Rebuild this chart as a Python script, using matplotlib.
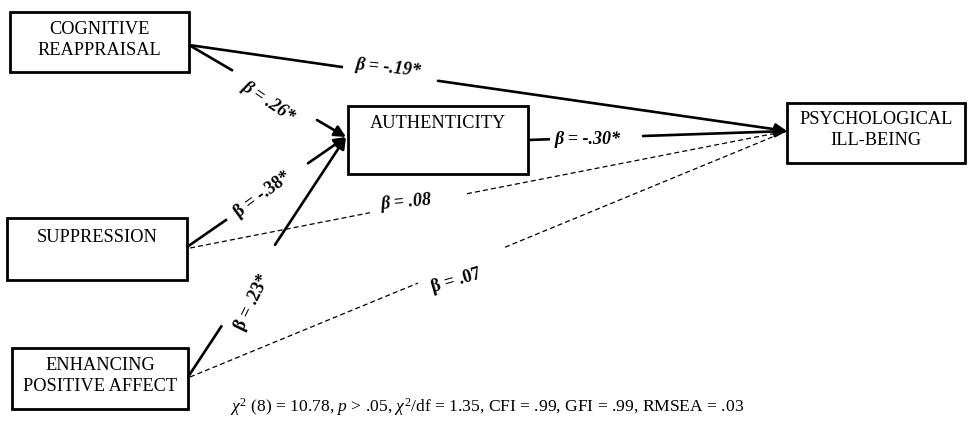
import matplotlib
matplotlib.use("Agg")
import matplotlib.pyplot as plt
from matplotlib.patches import Rectangle, FancyArrowPatch

plt.rcParams['font.family'] = ['Liberation Serif', 'DejaVu Serif']
plt.rcParams['mathtext.fontset'] = 'custom'
plt.rcParams['mathtext.rm'] = 'Liberation Serif'
plt.rcParams['mathtext.it'] = 'Liberation Serif:italic'
plt.rcParams['mathtext.bf'] = 'Liberation Serif:bold'

# ---- data ----
node_names = ["COGNITIVE\nREAPPRAISAL", "SUPPRESSION", "ENHANCING\nPOSITIVE AFFECT",
              "AUTHENTICITY", "PSYCHOLOGICAL\nILL-BEING"]
path_from = [0, 0, 1, 2, 3, 1, 2]
path_to = [4, 3, 3, 3, 4, 4, 4]
path_beta = ["-.19*", ".26*", "-.38*", ".23*", "-.30*", ".08", ".07"]
path_significant = [True, True, True, True, True, False, False]
fit_text = (r"$\chi^{\mathit{2}}$ (8) = 10.78, $p$ > .05, $\chi^{\mathit{2}}$/df = 1.35, "
            r"CFI = .99, GFI = .99, RMSEA = .03")

# ---- layout (pixel space) ----
box_xywh = [(10, 12, 179, 60), (7, 218, 180, 62), (12, 348, 176, 61),
            (348, 106, 180, 68), (787, 103, 178, 60)]
text_y = [40, 237, 376, 124, 130]
path_start = [(189, 45), (189, 45), (187, 247), (188, 377), (528, 140), (190, 248), (190, 377)]
path_end = [(787, 131), (346, 137), (346, 137), (346, 137), (787, 131), (787, 131), (787, 131)]
gap_x = [(343, 438), (233, 317), (227, 308), (222, 275), (550, 643), (370, 467), (418, 505)]
label_xy = [(388, 68), (268, 102), (263, 195), (253, 302), (588, 139), (406, 202), (456, 281)]
label_rot = [-6, -34, 36, 64, 0, 5, 16]
label_italic = [True, True, False, False, True, True, False]

fig = plt.figure(figsize=(9.68, 4.30), dpi=100)
ax = fig.add_axes([0, 0, 1, 1])
ax.set_xlim(0, 968)
ax.set_ylim(430, 0)
ax.axis('off')

for (x, y, w, h), name, ty in zip(box_xywh, node_names, text_y):
    ax.add_patch(Rectangle((x, y), w, h, fill=False, edgecolor='black', lw=2.0, zorder=3))
    ax.text(x + w / 2, ty, name, ha='center', va='center', fontsize=13.2,
            linespacing=1.25, zorder=4)

def pt_at_x(p0, p1, x):
    t = (x - p0[0]) / (p1[0] - p0[0])
    return (p0[0] + t * (p1[0] - p0[0]), p0[1] + t * (p1[1] - p0[1]))

for i in range(len(path_from)):
    p0, p1 = path_start[i], path_end[i]
    g0 = pt_at_x(p0, p1, gap_x[i][0])
    g1 = pt_at_x(p0, p1, gap_x[i][1])
    if path_significant[i]:
        ax.plot([p0[0], g0[0]], [p0[1], g0[1]], color='black', lw=1.9,
                solid_capstyle='butt', zorder=2)
        arr = FancyArrowPatch(g1, p1, arrowstyle='-|>', mutation_scale=17,
                              color='black', lw=1.9, shrinkA=0, shrinkB=0, zorder=2)
        ax.add_patch(arr)
    else:
        ax.plot([p0[0], g0[0]], [p0[1], g0[1]], color='black', lw=0.9,
                dashes=(4, 2.5), zorder=2)
        ax.plot([g1[0], p1[0]], [g1[1], p1[1]], color='black', lw=0.9,
                dashes=(4, 2.5), zorder=2)
    lx, ly = label_xy[i]
    ax.text(lx, ly, "\u03b2 = " + path_beta[i], ha='center', va='center',
            fontsize=13, fontweight='bold',
            fontstyle='italic' if label_italic[i] else 'normal',
            rotation=label_rot[i], rotation_mode='anchor', zorder=4)

ax.text(487, 407, fit_text, ha='center', va='center', fontsize=12.6)

fig.savefig("out.png", dpi=100)
